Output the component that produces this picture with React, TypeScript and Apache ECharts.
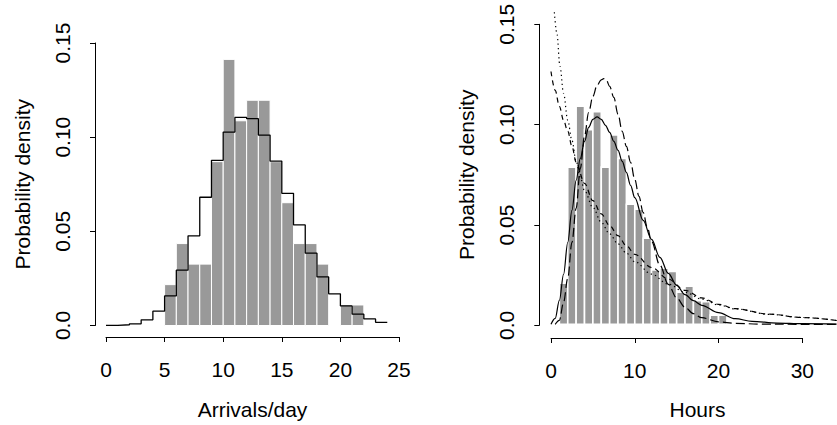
import React, { useEffect, useRef } from "react";
import * as echarts from "echarts";

// ---------- Left panel: arrivals per day ----------
const arrivalBinStart = [5, 6, 7, 8, 9, 10, 11, 12, 13, 14, 15, 16, 17, 18, 20, 21];
const arrivalDensity = [0.0217, 0.0435, 0.0326, 0.0326, 0.087, 0.1413, 0.1087, 0.1196, 0.1196, 0.087, 0.0652, 0.0435, 0.0435, 0.0326, 0.0109, 0.0109];
const poissonK = [0, 1, 2, 3, 4, 5, 6, 7, 8, 9, 10, 11, 12, 13, 14, 15, 16, 17, 18, 19, 20, 21, 22, 23, 24];
const poissonDensity = [0.0001, 0.0004, 0.0009, 0.003, 0.0076, 0.0157, 0.0294, 0.0476, 0.0681, 0.0877, 0.1027, 0.1105, 0.1098, 0.1011, 0.0873, 0.0702, 0.0534, 0.0384, 0.0258, 0.0168, 0.0104, 0.006, 0.0035, 0.0017, 0.0017];
const arrivalTicks = [0, 5, 10, 15, 20, 25];

// ---------- Right panel: hours ----------
const hourBinStart = [1, 2, 3, 4, 5, 6, 7, 8, 9, 10, 11, 12, 13, 14, 15, 16, 17, 18, 19, 20];
const hourDensity = [0.0206, 0.0786, 0.109, 0.0973, 0.1063, 0.0786, 0.0947, 0.0829, 0.06, 0.0575, 0.043, 0.0272, 0.028, 0.0264, 0.016, 0.019, 0.0118, 0.0113, 0.0046, 0.0046];

const solidCurve = [
  [0, 0], [0.5, 0.003], [1, 0.012], [1.5, 0.025], [2, 0.041], [2.5, 0.057], [3, 0.072], [3.5, 0.083],
  [4, 0.0915], [4.5, 0.0985], [5, 0.1025], [5.5, 0.1037], [6, 0.1025], [6.5, 0.0995], [7, 0.096],
  [7.5, 0.0915], [8, 0.087], [8.5, 0.0815], [9, 0.076], [9.5, 0.0695], [10, 0.0633], [11, 0.052],
  [12, 0.0425], [13, 0.0335], [14, 0.0255], [15, 0.0195], [16, 0.0148], [17, 0.0118], [18, 0.0095],
  [20, 0.0058], [22, 0.0028], [24, 0.0015], [27, 0.0006], [30, 0.0003], [34.1, 0.0001],
];
const longDashCurve = [
  [0.5, 0], [1, 0.002], [1.5, 0.011], [2, 0.023], [2.5, 0.041], [3, 0.058], [3.5, 0.078], [4, 0.094],
  [4.5, 0.106], [5, 0.114], [5.5, 0.1195], [6, 0.1222], [6.3, 0.1228], [6.6, 0.1222], [7, 0.119],
  [7.5, 0.1135], [8, 0.105], [8.5, 0.0965], [9, 0.089], [9.5, 0.081], [10, 0.0725], [10.5, 0.064],
  [11, 0.056], [11.5, 0.0485], [12, 0.0415], [13, 0.0295], [14, 0.02], [15, 0.0132], [16, 0.0085],
  [17, 0.0053], [18, 0.0033], [20, 0.0012], [22, 0.0005], [25, 0.0001], [30, 0], [34.1, 0],
];
const dashedCurve = [
  [0, 0.1264], [0.5, 0.117], [1, 0.109], [1.5, 0.102], [2, 0.0965], [2.5, 0.089], [3, 0.081],
  [4, 0.0705], [5, 0.0618], [6, 0.0552], [7, 0.0494], [8, 0.0443], [9, 0.0393], [10, 0.035],
  [12, 0.0284], [14, 0.0226], [16, 0.017], [18, 0.0132], [20, 0.01], [22, 0.0078], [26, 0.0051],
  [30, 0.0034], [34.1, 0.0019],
];
const dottedCurve = [
  [0.4, 0.156], [0.7, 0.1456], [1.07, 0.129], [1.5, 0.1155], [2, 0.102], [2.5, 0.092], [3, 0.0815],
  [3.5, 0.0735], [4, 0.0668], [5, 0.0585], [6, 0.051], [7, 0.0452], [8, 0.0402], [9, 0.0356],
  [10, 0.0313], [12, 0.0251], [14, 0.0201], [16, 0.016], [18, 0.0126], [20, 0.0097], [22, 0.0077],
  [26, 0.005], [30, 0.0034], [34.1, 0.0019],
];
const hourTicks = [0, 10, 20, 30];
// visible data window of the right panel (the chart is cut at the page's right edge)
const hourPlotRange = [0, 34.14];
const densityTicks = [0, 0.05, 0.1, 0.15];

const FONT = "'Liberation Sans', Arial, Helvetica, sans-serif";
const FS = 21;

function barSeries(xi: number, starts: number[], values: number[], stroke: number) {
  return {
    type: "custom",
    xAxisIndex: xi,
    yAxisIndex: xi,
    silent: true,
    clip: false,
    data: starts.map((s, i) => [s, s + 1, values[i]]),
    encode: { x: [0, 1], y: 2 },
    renderItem: (params: any, api: any) => {
      const p0 = api.coord([api.value(0), api.value(2)]);
      const p1 = api.coord([api.value(1), 0]);
      return {
        type: "rect",
        shape: { x: p0[0], y: p0[1], width: p1[0] - p0[0], height: p1[1] - p0[1] },
        style: { fill: "#999999", stroke: "#ffffff", lineWidth: stroke },
      };
    },
  };
}

function curve(xi: number, data: number[][], type: any) {
  return {
    type: "line",
    xAxisIndex: xi,
    yAxisIndex: xi,
    data,
    clip: false,
    smooth: 0.35,
    smoothMonotone: "x",
    symbol: "none",
    silent: true,
    lineStyle: { color: "#000", width: 1.2, type },
  };
}

const axisLineStyle = { show: true, onZero: false, lineStyle: { color: "#000", width: 1 } };
const tickStyle = { show: true, length: 5, lineStyle: { color: "#000", width: 1 } };
const nameStyle = { color: "#000", fontSize: FS, fontFamily: FONT };

function xAxisDef(grid: number, max: number, interval: number, offset: number, name: string) {
  return {
    type: "value",
    gridIndex: grid,
    min: 0,
    max,
    interval,
    offset,
    name,
    nameLocation: "middle",
    nameGap: 62,
    nameTextStyle: nameStyle,
    axisLine: axisLineStyle,
    axisTick: tickStyle,
    axisLabel: { color: "#000", fontSize: FS, fontFamily: FONT, margin: 22 },
    splitLine: { show: false },
  };
}

function yAxisDef(grid: number, offset: number) {
  return {
    type: "value",
    gridIndex: grid,
    min: 0,
    max: 0.15,
    interval: 0.05,
    offset,
    name: "Probability density",
    nameLocation: "middle",
    nameGap: 62,
    nameRotate: 90,
    nameTextStyle: nameStyle,
    axisLine: axisLineStyle,
    axisTick: tickStyle,
    axisLabel: {
      color: "#000",
      fontSize: FS,
      fontFamily: FONT,
      rotate: 90,
      margin: 22,
      formatter: (v: number) => (v === 0 ? "0.0" : v.toFixed(2)),
      customValues: densityTicks,
    },
    splitLine: { show: false },
  };
}

export default function App() {
  const ref = useRef<HTMLDivElement>(null);
  useEffect(() => {
    document.body.style.margin = "0";
    const chart = echarts.init(ref.current!, null, { renderer: "svg" });
    const pxPerHour = 251.3 / 30;
    chart.setOption({
      animation: false,
      backgroundColor: "#fff",
      grid: [
        { left: 106, top: 43, width: 293, height: 283 },
        { left: 551, top: 24.3, width: 251.3, height: 301 },
        {
          left: 551 + hourPlotRange[0] * pxPerHour,
          top: 24.3,
          width: (hourPlotRange[1] - hourPlotRange[0]) * pxPerHour,
          height: 301,
        },
      ],
      xAxis: [
        xAxisDef(0, arrivalTicks[arrivalTicks.length - 1], 5, 11.5, "Arrivals/day"),
        xAxisDef(1, hourTicks[hourTicks.length - 1], 10, 12.7, ""),
        {
          type: "value",
          gridIndex: 2,
          min: hourPlotRange[0],
          max: hourPlotRange[1],
          offset: 12.7,
          name: "Hours",
          nameLocation: "middle",
          nameGap: 62,
          nameTextStyle: { ...nameStyle, padding: [0, 0, 0, 7] },
          axisLine: { show: false, onZero: false },
          axisTick: { show: false },
          axisLabel: { show: false },
          splitLine: { show: false },
        },
      ],
      yAxis: [
        yAxisDef(0, 11),
        yAxisDef(1, 11.7),
        {
          type: "value",
          gridIndex: 2,
          min: 0,
          max: 0.15,
          axisLine: { show: false },
          axisTick: { show: false },
          axisLabel: { show: false },
          splitLine: { show: false },
        },
      ],
      series: [
        barSeries(0, arrivalBinStart, arrivalDensity, 1),
        {
          type: "line",
          xAxisIndex: 0,
          yAxisIndex: 0,
          data: poissonK.map((k, i) => [k, poissonDensity[i]]),
          step: "end",
          symbol: "none",
          silent: true,
          lineStyle: { color: "#000", width: 1.3 },
        },
        barSeries(2, hourBinStart, hourDensity, 1.6),
        curve(2, solidCurve, "solid"),
        curve(2, longDashCurve, [9, 4]),
        curve(2, dashedCurve, [5, 4]),
        curve(2, dottedCurve, [1.3, 3.2]),
      ],
    });
    return () => chart.dispose();
  }, []);
  return <div ref={ref} style={{ position: "absolute", left: 0, top: 0, width: 837, height: 425 }} />;
}
